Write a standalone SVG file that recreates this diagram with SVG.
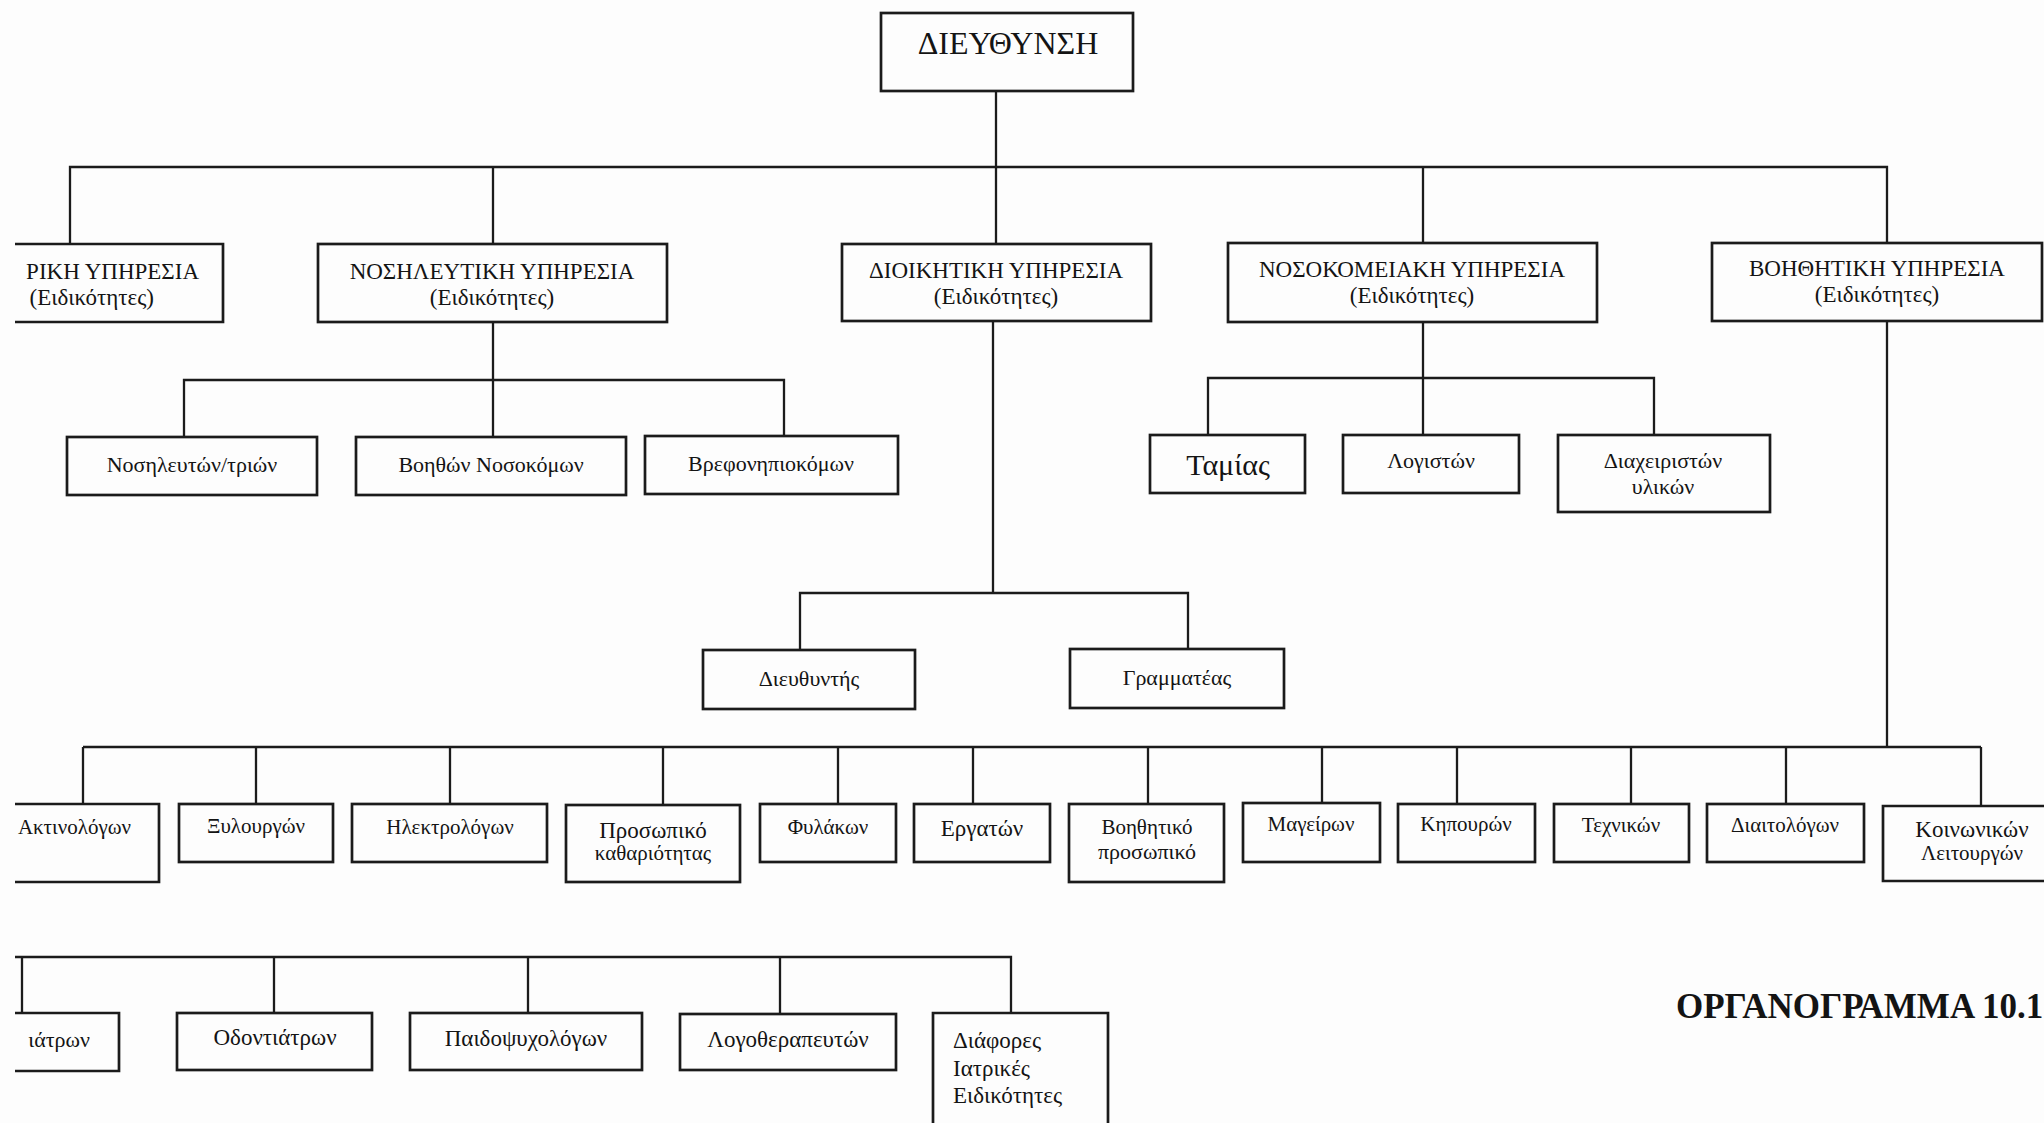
<svg xmlns="http://www.w3.org/2000/svg" width="2044" height="1123" viewBox="0 0 2044 1123">
  <style>
    .box { fill: none; stroke: #1b1b1b; stroke-width: 2.7; }
    .wire { fill: none; stroke: #1b1b1b; stroke-width: 2.3; }
    text { font-family: "Liberation Serif", "Times New Roman", "DejaVu Serif", serif; fill: #141414; }
    .c { text-anchor: middle; }
    .e { text-anchor: end; }
    .head { font-size: 32px; }
    .svc { font-size: 23px; }
    .lbl { font-size: 22px; }
    .mid { font-size: 23px; }
    .sm { font-size: 21px; }
    .big { font-size: 30px; }
    .title { font-size: 35px; font-weight: bold; }
  </style>

  <rect x="0" y="0" width="2044" height="1123" fill="#fdfdfd"/>

  <!-- connectors -->
  <g id="connectors" class="wire">
    <!-- top level -->
    <path d="M996 91 V244"/>
    <path d="M70 244 V167 H1887 V243"/>
    <path d="M493 167 V244"/>
    <path d="M1423 167 V243"/>
    <!-- nursing service -->
    <path d="M493 322 V437"/>
    <path d="M184 437 V380 H784 V436"/>
    <!-- hospital service -->
    <path d="M1423 322 V435"/>
    <path d="M1208 435 V378 H1654 V435"/>
    <!-- administration -->
    <path d="M993 321 V593"/>
    <path d="M800 650 V593 H1188 V649"/>
    <!-- auxiliary service -->
    <path d="M1887 321 V747"/>
    <path d="M83 747 H1981"/>
    <path d="M83 747 V804 M256 747 V804 M450 747 V804 M663 747 V804 M838 747 V804 M973 747 V804 M1148 747 V804 M1322 747 V804 M1457 747 V804 M1631 747 V804 M1786 747 V804 M1981 747 V806"/>
    <!-- medical specialties -->
    <path d="M15 957 H1011 V1013"/>
    <path d="M22 957 V1013 M274 957 V1013 M528 957 V1013 M780 957 V1014"/>
  </g>

  <!-- head -->
  <g id="dieythynsi">
    <rect class="box" x="881" y="13" width="252" height="78"/>
    <text class="head c" x="1008" y="54">ΔΙΕΥΘΥΝΣΗ</text>
  </g>

  <!-- services -->
  <g id="iatriki">
    <path class="box" d="M15 244 H223 V322 H15"/>
    <text class="svc e" x="199" y="279">ΡΙΚΗ ΥΠΗΡΕΣΙΑ</text>
    <text class="svc e" x="154" y="305">(Ειδικότητες)</text>
  </g>
  <g id="nosileytiki">
    <rect class="box" x="318" y="244" width="349" height="78"/>
    <text class="svc c" x="492" y="279">ΝΟΣΗΛΕΥΤΙΚΗ ΥΠΗΡΕΣΙΑ</text>
    <text class="svc c" x="492" y="305">(Ειδικότητες)</text>
  </g>
  <g id="dioikitiki">
    <rect class="box" x="842" y="244" width="309" height="77"/>
    <text class="svc c" x="996" y="278">ΔΙΟΙΚΗΤΙΚΗ ΥΠΗΡΕΣΙΑ</text>
    <text class="svc c" x="996" y="304">(Ειδικότητες)</text>
  </g>
  <g id="nosokomeiaki">
    <rect class="box" x="1228" y="243" width="369" height="79"/>
    <text class="svc c" x="1412" y="277">ΝΟΣΟΚΟΜΕΙΑΚΗ ΥΠΗΡΕΣΙΑ</text>
    <text class="svc c" x="1412" y="303">(Ειδικότητες)</text>
  </g>
  <g id="voithitiki">
    <rect class="box" x="1712" y="243" width="330" height="78"/>
    <text class="svc c" x="1877" y="276">ΒΟΗΘΗΤΙΚΗ ΥΠΗΡΕΣΙΑ</text>
    <text class="svc c" x="1877" y="302">(Ειδικότητες)</text>
  </g>

  <!-- nursing staff -->
  <g id="nosileyton">
    <rect class="box" x="67" y="437" width="250" height="58"/>
    <text class="lbl c" x="192" y="472">Νοσηλευτών/τριών</text>
  </g>
  <g id="voithon-nosokomon">
    <rect class="box" x="356" y="437" width="270" height="58"/>
    <text class="lbl c" x="491" y="472">Βοηθών Νοσοκόμων</text>
  </g>
  <g id="vrefonipiokomon">
    <rect class="box" x="645" y="436" width="253" height="58"/>
    <text class="lbl c" x="771" y="471">Βρεφονηπιοκόμων</text>
  </g>

  <!-- hospital service staff -->
  <g id="tamias">
    <rect class="box" x="1150" y="435" width="155" height="58"/>
    <text class="big c" x="1228" y="475">Ταμίας</text>
  </g>
  <g id="logiston">
    <rect class="box" x="1343" y="435" width="176" height="58"/>
    <text class="lbl c" x="1431" y="468">Λογιστών</text>
  </g>
  <g id="diaxeiriston">
    <rect class="box" x="1558" y="435" width="212" height="77"/>
    <text class="lbl c" x="1663" y="468">Διαχειριστών</text>
    <text class="lbl c" x="1663" y="494">υλικών</text>
  </g>

  <!-- administration staff -->
  <g id="dieythyntis">
    <rect class="box" x="703" y="650" width="212" height="59"/>
    <text class="lbl c" x="809" y="686">Διευθυντής</text>
  </g>
  <g id="grammateas">
    <rect class="box" x="1070" y="649" width="214" height="59"/>
    <text class="lbl c" x="1177" y="685">Γραμματέας</text>
  </g>

  <!-- auxiliary staff -->
  <g id="aktinologon">
    <path class="box" d="M15 804 H159 V882 H15"/>
    <text class="sm e" x="131" y="834">Ακτινολόγων</text>
  </g>
  <g id="xyloyrgon">
    <rect class="box" x="179" y="804" width="154" height="58"/>
    <text class="sm c" x="256" y="833">Ξυλουργών</text>
  </g>
  <g id="ilektrologon">
    <rect class="box" x="352" y="804" width="195" height="58"/>
    <text class="sm c" x="450" y="834">Ηλεκτρολόγων</text>
  </g>
  <g id="prosopiko-katharioti">
    <rect class="box" x="566" y="805" width="174" height="77"/>
    <text class="mid c" x="653" y="838">Προσωπικό</text>
    <text class="sm c" x="653" y="860">καθαριότητας</text>
  </g>
  <g id="fylakon">
    <rect class="box" x="760" y="804" width="136" height="58"/>
    <text class="sm c" x="828" y="834">Φυλάκων</text>
  </g>
  <g id="ergaton">
    <rect class="box" x="914" y="804" width="136" height="58"/>
    <text class="mid c" x="982" y="836">Εργατών</text>
  </g>
  <g id="voithitiko-prosopiko">
    <rect class="box" x="1069" y="804" width="155" height="78"/>
    <text class="sm c" x="1147" y="834">Βοηθητικό</text>
    <text class="lbl c" x="1147" y="859">προσωπικό</text>
  </g>
  <g id="mageiron">
    <rect class="box" x="1243" y="803" width="137" height="59"/>
    <text class="sm c" x="1311" y="831">Μαγείρων</text>
  </g>
  <g id="kipouron">
    <rect class="box" x="1398" y="804" width="137" height="58"/>
    <text class="sm c" x="1466" y="831">Κηπουρών</text>
  </g>
  <g id="texnikon">
    <rect class="box" x="1554" y="804" width="135" height="58"/>
    <text class="sm c" x="1621" y="832">Τεχνικών</text>
  </g>
  <g id="diaitologon">
    <rect class="box" x="1707" y="804" width="157" height="58"/>
    <text class="sm c" x="1785" y="832">Διαιτολόγων</text>
  </g>
  <g id="koinonikon-leitourgon">
    <path class="box" d="M2050 806 H1883 V881 H2050"/>
    <text class="mid c" x="1972" y="837">Κοινωνικών</text>
    <text class="sm c" x="1972" y="860">Λειτουργών</text>
  </g>

  <!-- medical specialties -->
  <g id="paidiatron">
    <path class="box" d="M15 1013 H119 V1071 H15"/>
    <text class="lbl e" x="90" y="1047">ιάτρων</text>
  </g>
  <g id="odontiatron">
    <rect class="box" x="177" y="1013" width="195" height="57"/>
    <text class="mid c" x="275" y="1045">Οδοντιάτρων</text>
  </g>
  <g id="paidopsyxologon">
    <rect class="box" x="410" y="1013" width="232" height="57"/>
    <text class="mid c" x="526" y="1046">Παιδοψυχολόγων</text>
  </g>
  <g id="logotherapeyton">
    <rect class="box" x="680" y="1014" width="216" height="56"/>
    <text class="mid c" x="788" y="1047">Λογοθεραπευτών</text>
  </g>
  <g id="diafores">
    <path class="box" d="M933 1130 V1013 H1108 V1130"/>
    <text class="mid" x="953" y="1048">Διάφορες</text>
    <text class="mid" x="953" y="1076">Ιατρικές</text>
    <text class="mid" x="953" y="1103">Ειδικότητες</text>
  </g>

  <!-- caption -->
  <text class="title" x="1676" y="1018">ΟΡΓΑΝΟΓΡΑΜΜΑ 10.1</text>
</svg>
